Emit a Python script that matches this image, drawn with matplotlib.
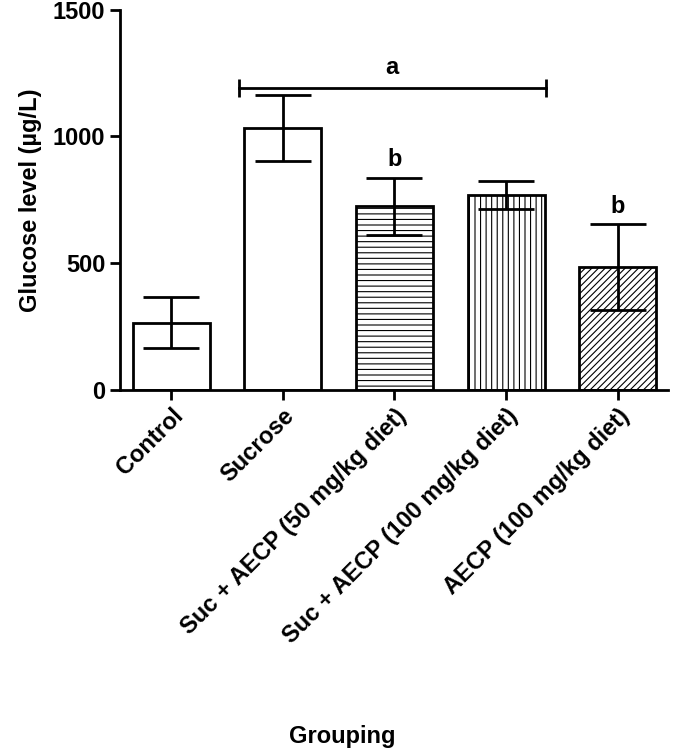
import matplotlib.pyplot as plt
import numpy as np

plt.rcParams["font.family"] = "Liberation Sans"
plt.rcParams["font.weight"] = "bold"
plt.rcParams["hatch.linewidth"] = 0.8

groups = ["Control", "Sucrose", "Suc + AECP (50 mg/kg diet)",
          "Suc + AECP (100 mg/kg diet)", "AECP (100 mg/kg diet)"]
glucose = [265, 1035, 725, 770, 485]
err = [100, 130, 112, 55, 170]
hatches = ["", "", "---", "|||", "/////"]
letters = ["", "", "b", "", "b"]

fig = plt.figure(figsize=(6.85, 7.54), dpi=100)
ax = fig.add_axes([0.175, 0.483, 0.80, 0.504])
x = np.arange(len(groups))
for i in range(len(groups)):
    ax.bar(x[i], glucose[i], width=0.69, color="white", edgecolor="black",
           linewidth=2, hatch=hatches[i])
ax.errorbar(x, glucose, yerr=err, fmt="none", ecolor="black", elinewidth=2,
            capsize=20, capthick=2)
for i in range(len(groups)):
    if letters[i]:
        ax.text(x[i], glucose[i] + err[i] + 25, letters[i], ha="center",
                va="bottom", fontsize=17, fontweight="bold")

# significance bracket
ax.errorbar([0.61, 3.36], [1192, 1192], yerr=35, color="black", lw=2,
            capsize=0, elinewidth=2)
ax.text(1.98, 1225, "a", ha="center", va="bottom", fontsize=17, fontweight="bold")

ax.set_xlim(-0.46, 4.45)
ax.set_ylim(0, 1500)
ax.set_yticks([0, 500, 1000, 1500])
ax.set_xticks(x)
ax.set_xticklabels(groups, rotation=45, ha="right", rotation_mode="anchor",
                   fontsize=17)
ax.tick_params(axis="y", labelsize=17, width=2, length=7)
ax.tick_params(axis="x", width=2, length=7)
for s in ["top", "right"]:
    ax.spines[s].set_visible(False)
ax.spines["left"].set_linewidth(2)
ax.spines["bottom"].set_linewidth(2)
ax.set_ylabel("Glucose level (µg/L)", fontsize=17, fontweight="bold", labelpad=8)
fig.text(0.5, 0.015, "Grouping", ha="center", fontsize=17, fontweight="bold")

fig.savefig("out.png", dpi=100)
